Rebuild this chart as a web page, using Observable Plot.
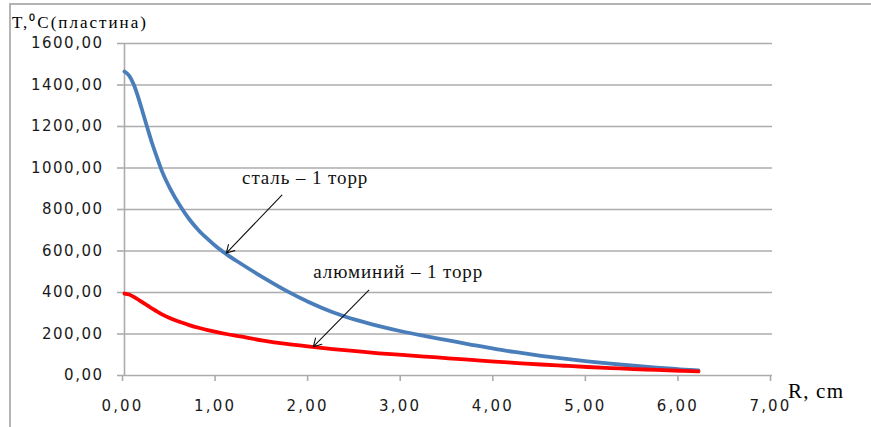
<!DOCTYPE html>
<html>
<head>
<meta charset="utf-8">
<script src="https://cdn.jsdelivr.net/npm/d3@7"></script>
<script src="https://cdn.jsdelivr.net/npm/@observablehq/plot@0.6"></script>
<style>
  html, body { margin: 0; padding: 0; background: #fff; width: 871px; height: 427px; overflow: hidden; }
  #wrap { position: relative; width: 871px; height: 427px; }
  #frame { position: absolute; left: 9px; top: 3px; width: 900px; height: 500px;
           border-top: 2px solid #b4b4b4; border-left: 2px solid #b4b4b4; box-sizing: border-box; }
  #chart { position: absolute; left: 0; top: 0; }
  .lbl { position: absolute; font-family: "Liberation Serif", serif; color: #000; white-space: nowrap; }
  #ytitle { left: 12px; top: 10px; font-size: 17px; letter-spacing: 2px; }
  #xtitle { left: 788px; top: 379px; font-size: 21px; letter-spacing: 1.2px; }
  g[aria-label="y-axis tick label"] text { letter-spacing: 1.5px; }
  g[aria-label="x-axis tick label"] text { letter-spacing: 2.2px; }
  g[aria-label="text"] text { letter-spacing: 0.9px; }
</style>
</head>
<body>
<div id="wrap">
  <div id="frame"></div>
  <div id="chart"></div>
  <div class="lbl" id="ytitle">T,⁰C(пластина)</div>
  <div class="lbl" id="xtitle">R, cm</div>
</div>
<script>
// Radius, cm
const radius = [0, 0.05, 0.1, 0.15, 0.2, 0.25, 0.3, 0.35, 0.4, 0.5, 0.6, 0.7, 0.8, 0.9, 1.0, 1.1, 1.25, 1.5, 1.75, 2.0, 2.25, 2.5, 2.75, 3.0, 3.25, 3.5, 3.75, 4.0, 4.25, 4.5, 4.75, 5.0, 5.25, 5.5, 5.75, 6.0, 6.2];
// Temperature, °C — steel, 1 torr (blue)
const steel = [1465, 1445, 1402, 1338, 1264, 1189, 1117, 1052, 990, 895, 818, 753, 700, 657, 618, 585, 541, 472, 408, 352, 305, 268, 238, 212, 190, 169, 148, 128, 111, 95, 81, 68, 57, 47, 38, 30, 24];
// Temperature, °C — aluminium, 1 torr (red)
const aluminium = [395, 390, 379, 365, 351, 337, 322, 309, 296, 275, 258, 243, 230, 219, 209, 200, 188, 168, 152, 139, 127, 117, 107, 99, 91, 83, 75, 67, 60, 53, 47, 41, 36, 31, 27, 23, 20];

const xTicks = [0, 1, 2, 3, 4, 5, 6, 7];
const yTicks = [0, 200, 400, 600, 800, 1000, 1200, 1400, 1600];

// Annotations (data units)
const labels = [
  {text: "сталь – 1 торр", x: 1.27, y: 925, x1: 1.70, y1: 869, x2: 1.10, y2: 590},
  {text: "алюминий – 1 торр", x: 2.04, y: 472, x1: 2.64, y1: 411, x2: 2.04, y2: 139}
];

const fmt = d => d.toFixed(2).replace(".", ",");
const steelData = radius.map((r, i) => ({r, t: steel[i]}));
const alData = radius.map((r, i) => ({r, t: aluminium[i]}));

const chart = Plot.plot({
  width: 871,
  height: 427,
  marginLeft: 124,
  marginRight: 99,
  marginTop: 43,
  marginBottom: 52,
  style: {background: "transparent", overflow: "visible"},
  x: {domain: [0, 7]},
  y: {domain: [0, 1600]},
  marks: [
    Plot.gridY(yTicks, {stroke: "#acacac", strokeOpacity: 1, strokeWidth: 1.6}),
    Plot.ruleX([0], {stroke: "#acacac", strokeWidth: 1.6}),
    Plot.axisY(yTicks, {tickFormat: fmt, tickSize: 7, tickPadding: 14, fontSize: 15, stroke: "#acacac", strokeWidth: 1.6, fill: "#1a1a1a", fontFamily: "DejaVu Sans", label: null}),
    Plot.axisX(xTicks, {tickFormat: fmt, tickSize: 6, tickPadding: 19, fontSize: 15, stroke: "#acacac", strokeWidth: 1.6, fill: "#1a1a1a", fontFamily: "DejaVu Sans", dx: -2, label: null}),
    Plot.line(steelData, {x: "r", y: "t", stroke: "#4a7ebb", strokeWidth: 3.8, curve: "monotone-x"}),
    Plot.line(alData, {x: "r", y: "t", stroke: "#ff0000", strokeWidth: 3.8, curve: "monotone-x"}),
    Plot.arrow(labels, {x1: "x1", y1: "y1", x2: "x2", y2: "y2", stroke: "#111", strokeWidth: 1.1, headLength: 12}),
    Plot.text(labels, {x: "x", y: "y", text: "text", textAnchor: "start", lineAnchor: "bottom", fontFamily: "Liberation Serif", fontSize: 19, fill: "#111"})
  ]
});
document.getElementById("chart").appendChild(chart);
</script>
</body>
</html>
